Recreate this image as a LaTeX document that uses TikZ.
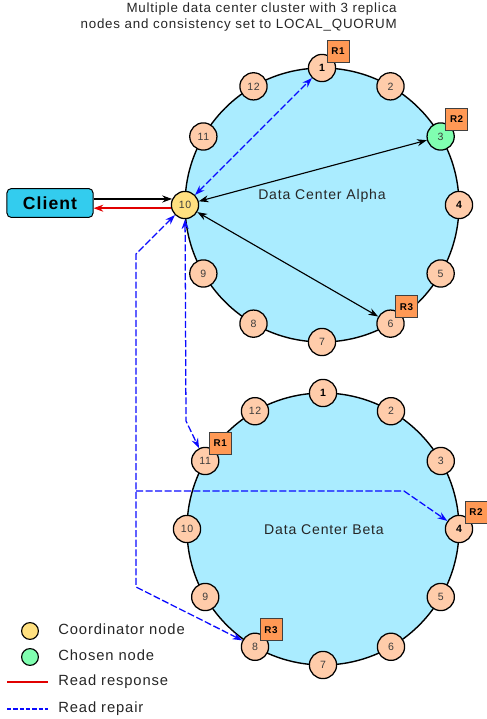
\documentclass[tikz,border=0pt]{standalone}
\usepackage{fontspec}
\setmainfont{Liberation Sans}[LetterSpace=6]
\usetikzlibrary{positioning, arrows.meta, calc}
\definecolor{ringfill}{RGB}{170,236,255}
\definecolor{peach}{RGB}{255,204,170}
\definecolor{coordyellow}{RGB}{255,224,128}
\definecolor{chosengreen}{RGB}{128,255,176}
\definecolor{tagorange}{RGB}{255,153,85}
\definecolor{clientblue}{RGB}{51,204,238}
\definecolor{repairblue}{RGB}{10,10,255}
\definecolor{respred}{RGB}{225,0,0}
\definecolor{numgrey}{RGB}{60,60,60}
\tikzset{
  disk/.style={draw, line width=1pt, fill=ringfill},
  ringnode/.style={circle, draw, line width=0.9pt, fill=peach, minimum size=0.68cm,
    inner sep=0, font=\fontsize{7.5}{8}\selectfont, text=numgrey},
  keynode/.style={ringnode, font=\fontsize{7.5}{8}\selectfont\bfseries, text=black},
  coordnode/.style={ringnode, fill=coordyellow},
  chosennode/.style={ringnode, fill=chosengreen},
  tag/.style={draw=black!75, line width=0.5pt, fill=tagorange, minimum size=0.55cm,
    inner sep=0, font=\fontsize{7}{7}\selectfont\bfseries},
  client/.style={draw, line width=0.7pt, fill=clientblue, rounded corners=3pt,
    minimum width=2.15cm, minimum height=0.72cm, font=\fontsize{12.5}{14}\selectfont\bfseries},
  dclabel/.style={inner sep=0, font=\fontsize{10}{12}\selectfont, text=black!85},
  title/.style={inner sep=0, align=right, font=\fontsize{9.5}{11.4}\selectfont, text=black!85},
  reqline/.style={line width=0.8pt, black},
  respline/.style={line width=1pt, respred},
  repairline/.style={line width=0.9pt, repairblue, dash pattern=on 5pt off 1.8pt},
  legenddot/.style={circle, draw, line width=0.8pt, minimum size=0.42cm, inner sep=0},
  legendtext/.style={inner sep=0, anchor=west, text height=0.75em, text depth=0.22em,
    font=\fontsize{10.5}{12}\selectfont, text=black!85}
}

\begin{document}
\begin{tikzpicture}[x=0.025cm, y=0.025cm, >={Stealth[length=7pt,width=5pt]}]
\useasboundingbox (0,0) rectangle (487,719);

\coordinate (ca) at (322,514);
\coordinate (cb) at (323,190);

\draw [disk] (ca) circle (137);
\draw [disk] (cb) circle (136);

\node [title, anchor=north east] (title) at (397,716) {Multiple data center cluster with 3 replica\\nodes and consistency set to LOCAL\_QUORUM};
\node [dclabel] (alphalabel) at (322,523) {Data Center Alpha};
\node [dclabel] (betalabel) at (324,189) {Data Center Beta};

% ring nodes
\foreach \i/\s in {1/keynode,2/ringnode,3/chosennode,4/keynode,5/ringnode,6/ringnode,
    7/ringnode,8/ringnode,9/ringnode,10/coordnode,11/ringnode,12/ringnode}
  \node [\s] (a\i) at ($(ca)+({120-30*\i}:137)$) {\i};
\foreach \i/\s in {1/keynode,2/ringnode,3/ringnode,4/keynode,5/ringnode,6/ringnode,
    7/ringnode,8/ringnode,9/ringnode,10/ringnode,11/ringnode,12/ringnode}
  \node [\s] (b\i) at ($(cb)+({120-30*\i}:136)$) {\i};

% replicas
\node [tag] (ra1) at ($(a1)+(16,17)$) {R1};
\node [tag] (ra2) at ($(a3)+(16,17)$) {R2};
\node [tag] (ra3) at ($(a6)+(16,17)$) {R3};
\node [tag] (rb1) at ($(b11)+(15,18)$) {R1};
\node [tag] (rb2) at ($(b4)+(17,17)$) {R2};
\node [tag] (rb3) at ($(b8)+(16,17)$) {R3};

\node [client] (client) at (50,516) {Client};
\draw [->, reqline] (a10.155 -| client.east) -- (a10.155);
\draw [->, respline] (a10.193) -- (a10.193 -| client.east);

\draw [<->, reqline] (a10) -- (a3);
\draw [<->, reqline] (a10) -- (a6);
\draw [<->, repairline] (a10) -- (a1);

% read repair to Beta
\coordinate (repA) at (186,298);
\coordinate (repB1) at (136,465);
\coordinate (repB2) at (136,132);
\coordinate (repC1) at (136,228);
\coordinate (repC2) at (404,228);
\draw [<->, repairline] (a10) -- (repA) -- (b11);
\draw [<->, repairline] (a10) -- (repB1) -- (repB2) -- (b8);
\draw [->, repairline] (repC1) -- (repC2) -- (b4);

% legend
\node [legenddot, fill=coordyellow] (lgcoord) at (30,88) {};
\node [legenddot, fill=chosengreen] (lgchosen) at (30,62) {};
\node [legendtext] (lgcoordtext) at (58,88) {Coordinator node};
\node [legendtext] (lgchosentext) at (58,62) {Chosen node};
\node [legendtext] (lgresptext) at (58,37) {Read response};
\node [legendtext] (lgrepairtext) at (58,10) {Read repair};
\coordinate (lgresp) at (7,37);
\coordinate (lgrepair) at (7,10);
\draw [respline, shorten >=0.25cm] (lgresp) -- (lgresptext.west);
\draw [repairline, dash pattern=on 3pt off 1.5pt, shorten >=0.25cm] (lgrepair) -- (lgrepairtext.west);
\end{tikzpicture}
\end{document}
